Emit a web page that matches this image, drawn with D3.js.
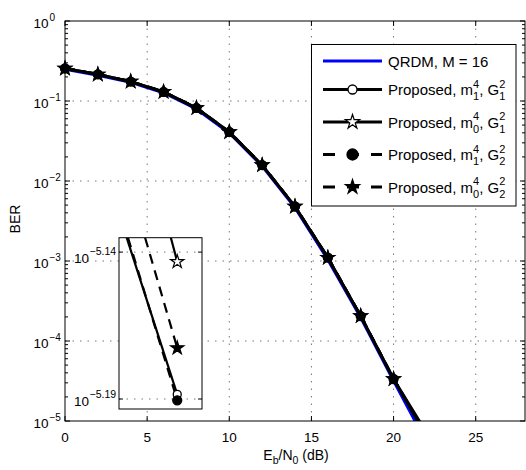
<!DOCTYPE html>
<html><head><meta charset="utf-8">
<script src="https://cdn.jsdelivr.net/npm/d3@7"></script>
<style>body{margin:0;background:#fff}svg{display:block}text{font-family:"Liberation Sans",Arial,sans-serif;fill:#000}</style>
</head><body>
<script>
// ---- data ----
const snr = [0, 2, 4, 6, 8, 10, 12, 14, 16, 18, 20, 22];
const qrdm   = [0.25, 0.21, 0.171, 0.127, 0.0795, 0.0398, 0.0154, 0.00465, 0.00104, 0.000196, 0.0000318, 0.0000054];
const pM1G1  = [0.255, 0.215, 0.175, 0.13, 0.082, 0.041, 0.0158, 0.0048, 0.0011, 0.000205, 0.0000335, 0.00000648];
const pM0G1  = [0.255, 0.215, 0.175, 0.13, 0.082, 0.041, 0.0158, 0.0048, 0.0011, 0.000205, 0.0000335, 0.00000719];
const pM1G2  = [0.255, 0.215, 0.175, 0.13, 0.082, 0.041, 0.0158, 0.0048, 0.0011, 0.000205, 0.0000335, 0.00000645];
const pM0G2  = [0.255, 0.215, 0.175, 0.13, 0.082, 0.041, 0.0158, 0.0048, 0.0011, 0.000205, 0.0000335, 0.00000672];
const xTicks = [0, 5, 10, 15, 20, 25];
const yExps = [0, -1, -2, -3, -4, -5];
const legendLabels = ["QRDM, M = 16", ["m","4","1","G","1"], ["m","4","0","G","1"], ["m","4","1","G","2"], ["m","4","0","G","2"]];
// inset (zoom) data
const insetXDomain = [21.826, 22.074];
const insetYExpDomain = [-5.1934, -5.1351];
const insetYTickExps = [-5.14, -5.19];
const insetStartX = [21.849, 21.981, 21.853, 21.904];
const insetEndX = 22;

const W = 526, H = 470;
const svg = d3.select("body").append("svg").attr("width", W).attr("height", H);
const X0 = 65, X1 = 525, Y0 = 21, Y1 = 421;
const x = d3.scaleLinear([0, 28], [X0, X1]);
const y = d3.scaleLog([1e-5, 1], [Y1, Y0]);

const series = [
  {v: pM1G1, dash: null, marker: "circle", fill: "#fff"},
  {v: pM0G1, dash: null, marker: "star", fill: "#fff"},
  {v: pM1G2, dash: "10,7", marker: "circle", fill: "#000"},
  {v: pM0G2, dash: "10,7", marker: "star", fill: "#000"}
];

function starPath(R) {
  const r = R * 0.382; let p = [];
  for (let i = 0; i < 10; i++) {
    const a = -Math.PI / 2 + i * Math.PI / 5, rr = i % 2 ? r : R;
    p.push([rr * Math.cos(a), rr * Math.sin(a)]);
  }
  return "M" + p.map(d => d.join(",")).join("L") + "Z";
}
function drawMarker(g, type, fill, cx, cy, big) {
  if (type === "circle") {
    g.append("circle").attr("cx", cx).attr("cy", cy).attr("r", fill === "#000" ? (big ? 5.5 : 4.5) : (big ? 4.5 : 4))
      .attr("fill", fill).attr("stroke", "#000").attr("stroke-width", 1.3);
  } else {
    g.append("path").attr("d", starPath(big ? 7.5 : 7)).attr("transform", `translate(${cx},${cy})`)
      .attr("fill", fill).attr("stroke", "#000").attr("stroke-width", 1.2).attr("stroke-linejoin", "miter");
  }
}

// clip
svg.append("clipPath").attr("id", "pc").append("rect").attr("x", X0).attr("y", Y0).attr("width", X1 - X0).attr("height", Y1 - Y0);

// grid
const grid = svg.append("g").attr("stroke", "#555").attr("stroke-width", 0.8).attr("stroke-dasharray", "1.5,6");
xTicks.filter(t => t > 0).forEach(t => grid.append("line").attr("x1", x(t)).attr("x2", x(t)).attr("y1", Y0).attr("y2", Y1));
yExps.filter(e => e < 0 && e > -5).forEach(e => grid.append("line").attr("x1", X0).attr("x2", X1).attr("y1", y(10 ** e)).attr("y2", y(10 ** e)));

// lines
const line = d3.line().x((d, i) => x(snr[i])).y(d => y(d));
const lg = svg.append("g").attr("clip-path", "url(#pc)");
lg.append("path").attr("d", line(qrdm)).attr("fill", "none").attr("stroke", "#0000ff").attr("stroke-width", 3);
const mg = svg.append("g");
series.forEach(s => {
  lg.append("path").attr("d", line(s.v)).attr("fill", "none").attr("stroke", "#000").attr("stroke-width", 2.8)
    .attr("stroke-dasharray", s.dash);
});
series.forEach(s => {
  s.v.forEach((v, i) => { if (v >= 1e-5) drawMarker(mg, s.marker, s.fill, x(snr[i]), y(v), false); });
});

// frame & ticks
const ax = svg.append("g").attr("stroke", "#000").attr("stroke-width", 1);
ax.append("rect").attr("x", X0).attr("y", Y0).attr("width", X1 - X0).attr("height", Y1 - Y0).attr("fill", "none");
xTicks.forEach(t => {
  ax.append("line").attr("x1", x(t)).attr("x2", x(t)).attr("y1", Y1).attr("y2", Y1 - 5);
  ax.append("line").attr("x1", x(t)).attr("x2", x(t)).attr("y1", Y0).attr("y2", Y0 + 5);
  svg.append("text").attr("x", x(t)).attr("y", 442).attr("text-anchor", "middle").attr("font-size", 13.5).text(t);
});
yExps.forEach(e => {
  const yy = y(10 ** e);
  ax.append("line").attr("x1", X0).attr("x2", X0 + 5).attr("y1", yy).attr("y2", yy);
  ax.append("line").attr("x1", X1).attr("x2", X1 - 5).attr("y1", yy).attr("y2", yy);
  svg.append("text").attr("x", 48.5).attr("y", yy + 6.5).attr("text-anchor", "end").attr("font-size", 13.5).text("10");
  svg.append("text").attr("x", 49.5).attr("y", yy - 0.5).attr("font-size", 10).text(e === 0 ? "0" : "\u2212" + (-e));
});
for (let e = -5; e < 0; e++) for (let m = 2; m <= 9; m++) {
  const yy = y(m * 10 ** e);
  ax.append("line").attr("x1", X0).attr("x2", X0 + 3).attr("y1", yy).attr("y2", yy);
  ax.append("line").attr("x1", X1).attr("x2", X1 - 3).attr("y1", yy).attr("y2", yy);
}

// axis labels
const xl = svg.append("text").attr("x", 296).attr("y", 460).attr("text-anchor", "middle").attr("font-size", 14);
xl.append("tspan").text("E");
xl.append("tspan").attr("font-size", 10.5).attr("dy", 4).text("b");
xl.append("tspan").attr("dy", -4).text("/N");
xl.append("tspan").attr("font-size", 10.5).attr("dy", 4).text("0");
xl.append("tspan").attr("dy", -4).text(" (dB)");
svg.append("text").attr("transform", "translate(20,219) rotate(-90)").attr("text-anchor", "middle").attr("font-size", 14).text("BER");

// inset
const IX0 = 119, IX1 = 202, IY0 = 237.7, IY1 = 409;
const ix = d3.scaleLinear(insetXDomain, [IX0, IX1]);
const iy = d3.scaleLinear(insetYExpDomain, [IY1, IY0]);
svg.append("rect").attr("x", IX0).attr("y", IY0).attr("width", IX1 - IX0).attr("height", IY1 - IY0).attr("fill", "#fff");
svg.append("clipPath").attr("id", "ic").append("rect").attr("x", IX0).attr("y", IY0).attr("width", IX1 - IX0).attr("height", IY1 - IY0);
const ig = svg.append("g").attr("clip-path", "url(#ic)");
insetYTickExps.forEach(e => {
  ig.append("line").attr("x1", IX0).attr("x2", IX1).attr("y1", iy(e)).attr("y2", iy(e))
    .attr("stroke", "#555").attr("stroke-width", 0.8).attr("stroke-dasharray", "1.5,6");
});
series.forEach((s, k) => {
  const endExp = Math.log10(s.v[s.v.length - 1]);
  ig.append("line").attr("x1", ix(insetStartX[k])).attr("y1", iy(insetYExpDomain[1]))
    .attr("x2", ix(insetEndX)).attr("y2", iy(endExp)).attr("stroke", "#000").attr("stroke-width", 2.2)
    .attr("stroke-dasharray", s.dash);
});
const img = svg.append("g");
series.forEach(s => drawMarker(img, s.marker, s.fill, ix(insetEndX), iy(Math.log10(s.v[s.v.length - 1])), false));
svg.append("rect").attr("x", IX0).attr("y", IY0).attr("width", IX1 - IX0).attr("height", IY1 - IY0)
  .attr("fill", "none").attr("stroke", "#000").attr("stroke-width", 1);
insetYTickExps.forEach((e, k) => {
  const yy = iy(e), off = k === 0 ? 4 : 0;
  svg.append("line").attr("x1", IX0).attr("x2", IX0 + 4).attr("y1", yy).attr("y2", yy).attr("stroke", "#000");
  svg.append("line").attr("x1", IX1).attr("x2", IX1 - 4).attr("y1", yy).attr("y2", yy).attr("stroke", "#000");
  svg.append("text").attr("x", 89).attr("y", yy + 6.5 + off).attr("text-anchor", "end").attr("font-size", 13.5).text("10");
  svg.append("text").attr("x", 89.5).attr("y", yy - 1.5 + off).attr("font-size", 10.5).text("\u2212" + (-e).toFixed(2));
});

// legend
const LX = 311.5, LY = 44.5, LW = 204.5, LH = 161.5;
const leg = svg.append("g");
leg.append("rect").attr("x", LX).attr("y", LY).attr("width", LW).attr("height", LH).attr("fill", "#fff").attr("stroke", "#000").attr("stroke-width", 1);
const rowY = [61, 89.5, 122, 154.5, 187];
leg.append("line").attr("x1", 323).attr("x2", 382).attr("y1", rowY[0]).attr("y2", rowY[0]).attr("stroke", "#0000ff").attr("stroke-width", 3);
leg.append("text").attr("x", 388).attr("y", rowY[0] + 5.5).attr("font-size", 15).text(legendLabels[0]);
series.forEach((s, k) => {
  const ry = rowY[k + 1];
  leg.append("line").attr("x1", 323).attr("x2", 382).attr("y1", ry).attr("y2", ry).attr("stroke", "#000").attr("stroke-width", 3)
    .attr("stroke-dasharray", s.dash ? "12,12" : null);
  drawMarker(leg, s.marker, s.fill, 352.5, ry, true);
  const L = legendLabels[k + 1];
  const t = leg.append("text").attr("x", 388).attr("y", ry + 5.5).attr("font-size", 15);
  t.append("tspan").text("Proposed, " + L[0]);
  t.append("tspan").attr("font-size", 11).attr("dy", -7.5).text(L[1]);
  t.append("tspan").attr("font-size", 11).attr("dx", -6.1).attr("dy", 12.5).text(L[2]);
  t.append("tspan").attr("dy", -5).text(", " + L[3]);
  t.append("tspan").attr("font-size", 11).attr("dy", -7.5).text("2");
  t.append("tspan").attr("font-size", 11).attr("dx", -6.1).attr("dy", 12.5).text(L[4]);
});
</script>
</body></html>
